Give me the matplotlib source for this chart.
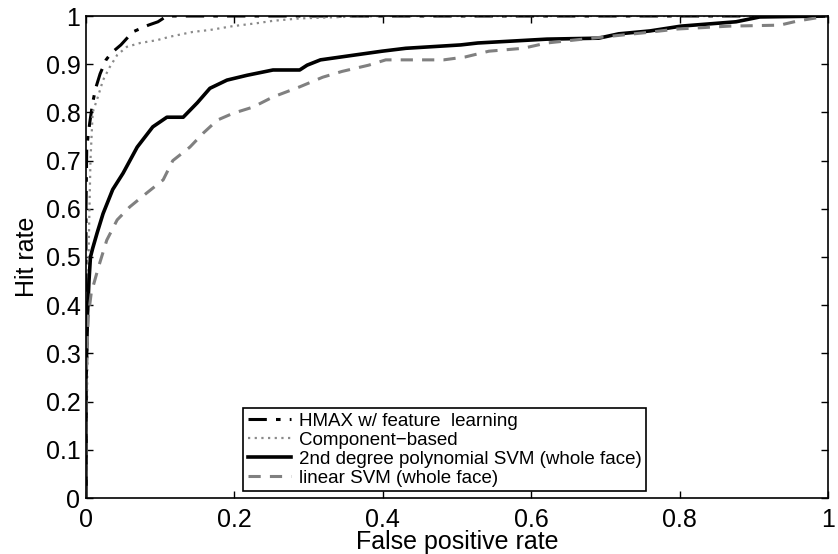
import matplotlib
matplotlib.use("Agg")
import matplotlib.pyplot as plt

plt.rcParams['font.family'] = ['Liberation Sans', 'DejaVu Sans']

# HMAX w/ feature learning (dash-dot)
hmax_fpr = [0.0, 0.0, 0.0, 0.001, 0.005, 0.009, 0.013, 0.019, 0.027, 0.034,
            0.047, 0.063, 0.084, 0.097, 0.109, 1.0]
hmax_hit = [0.0, 0.40, 0.60, 0.728, 0.778, 0.82, 0.85, 0.88, 0.909, 0.923,
            0.94, 0.967, 0.981, 0.988, 1.0, 1.0]

# Component-based (dotted)
comp_fpr = [0.0, 0.002, 0.004, 0.006, 0.009, 0.016, 0.023, 0.032, 0.042, 0.055,
            0.073, 0.096, 0.113, 0.144, 0.167, 0.198, 0.23, 0.252, 0.288, 0.346,
            0.40, 1.0]
comp_hit = [0.0, 0.30, 0.55, 0.70, 0.80, 0.832, 0.867, 0.894, 0.919, 0.936,
            0.944, 0.95, 0.957, 0.967, 0.971, 0.979, 0.985, 0.99, 0.995, 0.998,
            1.0, 1.0]

# 2nd degree polynomial SVM (whole face), solid
poly_fpr = [0.0, 0.0, 0.002, 0.004, 0.006, 0.009, 0.015, 0.023, 0.036, 0.05,
            0.069, 0.09, 0.109, 0.131, 0.15, 0.167, 0.19, 0.217, 0.252, 0.288,
            0.298, 0.316, 0.362, 0.399, 0.431, 0.505, 0.528, 0.621, 0.691,
            0.718, 0.76, 0.802, 0.876, 0.908, 1.0]
poly_hit = [0.0, 0.25, 0.38, 0.45, 0.50, 0.518, 0.55, 0.59, 0.64, 0.674,
            0.728, 0.77, 0.79, 0.79, 0.82, 0.85, 0.867, 0.877, 0.888, 0.888,
            0.898, 0.909, 0.919, 0.927, 0.933, 0.94, 0.944, 0.952, 0.954,
            0.963, 0.969, 0.979, 0.988, 0.998, 1.0]

# linear SVM (whole face), dashed
lin_fpr = [0.0, 0.0, 0.003, 0.007, 0.017, 0.028, 0.042, 0.059, 0.082, 0.104,
           0.117, 0.14, 0.158, 0.177, 0.198, 0.225, 0.252, 0.288, 0.319,
           0.345, 0.381, 0.404, 0.482, 0.511, 0.543, 0.589, 0.621, 0.682,
           0.751, 0.797, 0.867, 0.935, 0.96, 1.0]
lin_hit = [0.0, 0.25, 0.375, 0.425, 0.48, 0.535, 0.577, 0.604, 0.633, 0.66,
           0.70, 0.728, 0.757, 0.784, 0.798, 0.811, 0.832, 0.853, 0.873,
           0.885, 0.898, 0.909, 0.909, 0.915, 0.927, 0.933, 0.944, 0.954,
           0.965, 0.973, 0.979, 0.981, 0.99, 1.0]

labels = ["HMAX w/ feature  learning", "Component\u2212based",
          "2nd degree polynomial SVM (whole face)", "linear SVM (whole face)"]
x_ticks = [0, 0.2, 0.4, 0.6, 0.8, 1]
y_ticks = [0, 0.1, 0.2, 0.3, 0.4, 0.5, 0.6, 0.7, 0.8, 0.9, 1]

fig = plt.figure(figsize=(8.38, 5.54), dpi=100)
ax = fig.add_axes([86 / 838, 56 / 554, 742 / 838, 482 / 554])

ax.plot(hmax_fpr, hmax_hit, color='black', lw=2.2, linestyle=(0, (6, 3, 1.5, 3)),
        label=labels[0])
ax.plot(comp_fpr, comp_hit, color='#8a8a8a', lw=1.6, linestyle=(0, (1, 2)),
        label=labels[1])
ax.plot(poly_fpr, poly_hit, color='black', lw=2.6, label=labels[2])
ax.plot(lin_fpr, lin_hit, color='#808080', lw=2.2, linestyle=(0, (4, 3)),
        label=labels[3])

ax.set_xlim(0, 1)
ax.set_ylim(0, 1)
ax.set_xticks(x_ticks)
ax.set_xticklabels(['0', '0.2', '0.4', '0.6', '0.8', '1'])
ax.set_yticks(y_ticks)
ax.set_yticklabels(['0', '0.1', '0.2', '0.3', '0.4', '0.5', '0.6', '0.7',
                    '0.8', '0.9', '1'])
ax.tick_params(direction='in', length=5, width=1, top=True, right=True,
               labelsize=18, pad=4)
ax.tick_params(axis='x', pad=7)
for s in ax.spines.values():
    s.set_linewidth(1.2)

ax.set_xlabel("False positive rate", fontsize=18, labelpad=-1)
ax.set_ylabel("Hit rate", fontsize=18, labelpad=5)

leg = ax.legend(loc='lower left', bbox_to_anchor=(0.212, 0.014), borderaxespad=0,
                fontsize=13.5, handlelength=2.3, labelspacing=0.1,
                handletextpad=0.4, borderpad=0.25, fancybox=False,
                framealpha=1, edgecolor='black')
leg.get_frame().set_linewidth(1.2)

fig.savefig("out.png", dpi=100)
